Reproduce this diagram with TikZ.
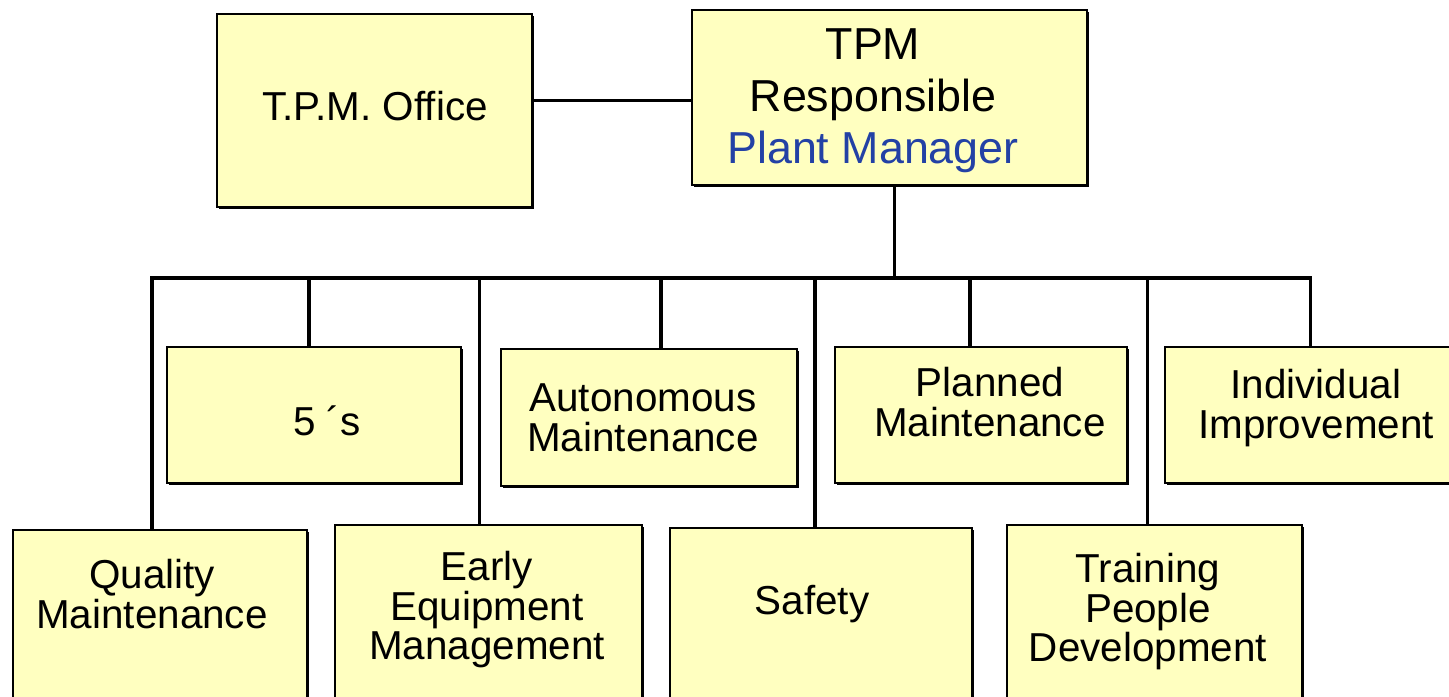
\documentclass[tikz,border=0pt]{standalone}
\usepackage{fontspec}
\setmainfont{Liberation Sans}
\usetikzlibrary{fit,shadows}
\definecolor{boxfill}{RGB}{255,255,192}
\definecolor{pmblue}{RGB}{35,65,165}
\tikzset{
  box/.style={draw, fill=boxfill, line width=1.1pt, inner sep=0pt,
    drop shadow={shadow xshift=0.04cm, shadow yshift=-0.04cm, fill=black, opacity=1}},
  txt/.style={align=center, inner sep=0pt, font=\fontsize{23}{22.5}\selectfont},
  link/.style={line width=2.1pt}
}
\begin{document}
\begin{tikzpicture}[x=0.02cm, y=-0.02cm]
    \useasboundingbox (0,0) rectangle (1449,696);
    \clip (0,0) rectangle (1449,696);
    % top boxes
 \node[box, fit={(217,14) (532,207)}] (office) {};
 \node[box, fit={(692,10) (1087,185)}] (tpm) {};
 \node[txt] (officet) at (375,106) {T.P.M. Office};
 \node[txt, font=\fontsize{25.5}{29.5}\selectfont] (tpmt) at (873,101)
    {TPM\\Responsible\\\textcolor{pmblue}{Plant Manager}};
    % pillars, upper row
 \node[box, fit={(167,347) (461,483)}] (fives) {};
 \node[box, fit={(501,349) (797,486)}] (am) {};
 \node[box, fit={(835,347) (1127,483)}] (pm) {};
 \node[box, fit={(1165,347) (1470,483)}] (ii) {};
 \node[txt] (fivest) at (327,421) {5 ´s};
 \node[txt] (amt) at (643,418) {Autonomous\\Maintenance};
 \node[txt] (pmt) at (990,402) {Planned\\Maintenance};
 \node[txt] (iit) at (1316,408) {Individual\\Improvement};
    % pillars, lower row
 \node[box, fit={(13,530) (307,730)}] (qm) {};
 \node[box, fit={(335,525) (642,730)}] (eem) {};
 \node[box, fit={(670,528) (972,730)}] (saf) {};
 \node[box, fit={(1007,525) (1302,730)}] (tpd) {};
 \node[txt] (qmt) at (152,594) {Quality\\Maintenance};
 \node[txt] (eemt) at (487,610) {Early\\Equipment\\Management};
 \node[txt] (saft) at (812,604) {Safety};
 \node[txt] (tpdt) at (1148,612) {Training\\People\\Development};
    % connectors
 \coordinate (bus) at (0,278);
 \draw[link] ([yshift=-0.06cm]tpm.west) -- ([yshift=-0.06cm]tpm.west -| office.east);
 \draw[link] ([xshift=0.1cm]tpm.south) -- ([xshift=0.1cm]tpm.south |- bus);
 \draw[link] ([xshift=-0.16cm]qm.north) -- ([xshift=-0.16cm]qm.north |- bus)
    -- ([xshift=-0.14cm]ii.north |- bus) -- ([xshift=-0.14cm]ii.north);
 \foreach \n/\dx in {fives/-5,eem/-9,am/12,saf/-6,pm/-11,tpd/-7}
    \draw[link] ([xshift=\dx*0.02cm]\n.north) -- ([xshift=\dx*0.02cm]\n.north |- bus);
 \end{tikzpicture}
\end{document}
